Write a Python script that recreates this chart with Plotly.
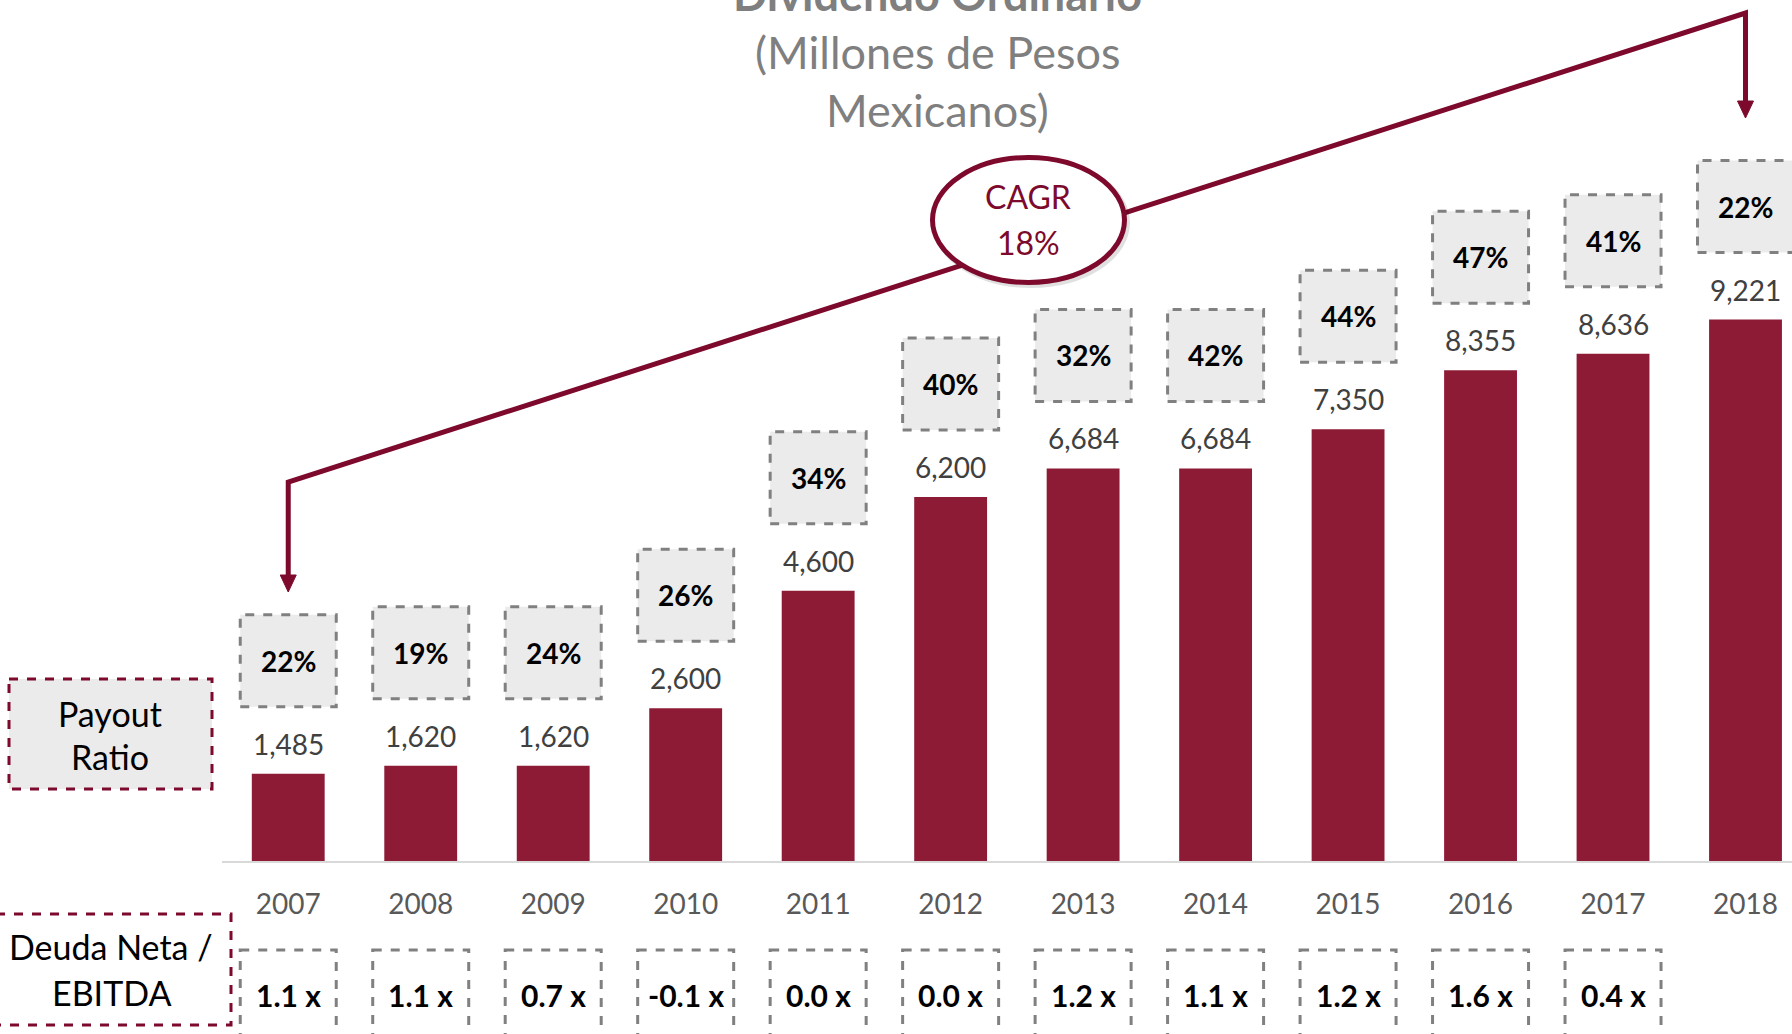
import plotly.graph_objects as go

# ---------------- data ----------------
years = ["2007", "2008", "2009", "2010", "2011", "2012", "2013", "2014", "2015", "2016", "2017", "2018"]
dividends = [1485, 1620, 1620, 2600, 4600, 6200, 6684, 6684, 7350, 8355, 8636, 9221]
payout_ratio = ["22%", "19%", "24%", "26%", "34%", "40%", "32%", "42%", "44%", "47%", "41%", "22%"]
net_debt_ebitda = [1.1, 1.1, 0.7, -0.1, 0.0, 0.0, 1.2, 1.1, 1.2, 1.6, 0.4]
title_lines = ["Dividendo Ordinario", "(Millones de Pesos", "Mexicanos)"]
cagr_text = ["CAGR", "18%"]

# ---------------- styles ----------------
W, H = 1792, 1034
BASE = 861          # pixel row of the x axis
LEFT = 222          # pixel column where the plot area begins
K = 541.5 / 9221    # pixels per million pesos
BAR = "#8E1B36"
MAROON = "#7D0A2C"
GRAY_TXT = "#7F7F7F"
FONT = "Lato, 'Open Sans', sans-serif"

def py(p):
    return (BASE - p) / BASE

def px(p):
    return (p - LEFT) / (W - LEFT)

n = len(years)
x = list(range(n))
x_hi = (W - 288) / 132.5

fig = go.Figure(
    go.Bar(
        x=x, y=dividends, width=0.55,
        marker=dict(color=BAR, line=dict(width=0)),
        hoverinfo="skip",
    )
)

shapes = []
annotations = []

# value labels + payout boxes
for i, (v, p) in enumerate(zip(dividends, payout_ratio)):
    annotations.append(dict(
        x=i, y=v, xref="x", yref="y", yshift=30, showarrow=False,
        text=f"{v:,}", font=dict(family=FONT, size=28, color="#404040"),
        xanchor="center", yanchor="middle",
    ))
    shapes.append(dict(
        type="rect", xref="x", yref="y", xsizemode="pixel", ysizemode="pixel",
        xanchor=i, yanchor=v, x0=-48, x1=48, y0=67, y1=159,
        fillcolor="#EBEBEB", line=dict(color="#808080", width=3, dash="dash"),
    ))
    annotations.append(dict(
        x=i, y=v, xref="x", yref="y", yshift=113, showarrow=False,
        text=f"<b>{p}</b>", font=dict(family=FONT, size=28, color="#000000"),
        xanchor="center", yanchor="middle",
    ))

# net debt / EBITDA boxes
for i, d in enumerate(net_debt_ebitda):
    shapes.append(dict(
        type="rect", xref="x", yref="paper", xsizemode="pixel",
        xanchor=i, x0=-48, x1=48, y0=py(950), y1=py(1044),
        fillcolor="#FFFFFF", line=dict(color="#808080", width=3, dash="dash"),
    ))
    annotations.append(dict(
        x=i, y=py(995), xref="x", yref="paper", showarrow=False,
        text=f"<b>{d:.1f} x</b>", font=dict(family=FONT, size=30, color="#000000"),
        xanchor="center", yanchor="middle",
    ))

# left label boxes
shapes.append(dict(
    type="rect", xref="paper", yref="paper",
    x0=px(9), x1=px(212), y0=py(679), y1=py(789),
    fillcolor="#EBEBEB", line=dict(color=MAROON, width=3, dash="dash"),
))
shapes.append(dict(
    type="rect", xref="paper", yref="paper",
    x0=px(-4), x1=px(231), y0=py(914), y1=py(1025),
    fillcolor="#FFFFFF", line=dict(color=MAROON, width=3, dash="dash"),
))
for txt, cy, cx in [("Payout", 713, 110), ("Ratio", 756, 110),
                    ("Deuda Neta /", 946, 111), ("EBITDA", 992, 111)]:
    annotations.append(dict(
        x=px(cx), y=py(cy), xref="paper", yref="paper", showarrow=False,
        text=txt, font=dict(family=FONT, size=34, color="#000000"),
        xanchor="center", yanchor="middle",
    ))

# CAGR bracket line
shapes.append(dict(
    type="path", xref="x", yref="paper",
    path=f"M 0,{py(578)} L 0,{py(482)} L {n-1},{py(13)} L {n-1},{py(104)}",
    line=dict(color=MAROON, width=5),
))
for tip in (592, 118):
    idx = 0 if tip == 592 else n - 1
    shapes.append(dict(
        type="path", xref="x", yref="paper", xsizemode="pixel", ysizemode="pixel",
        xanchor=idx, yanchor=py(tip),
        path="M -8,17 L 8,17 L 0,0 Z",
        fillcolor=MAROON, line=dict(color=MAROON, width=1),
    ))

# CAGR ellipse (shadow + ellipse)
shapes.append(dict(
    type="circle", xref="paper", yref="paper",
    x0=px(935), x1=px(1127), y0=py(160), y1=py(285),
    fillcolor="rgba(0,0,0,0)", line=dict(color="rgba(0,0,0,0.12)", width=6),
))
shapes.append(dict(
    type="circle", xref="paper", yref="paper",
    x0=px(932.5), x1=px(1124.5), y0=py(157.5), y1=py(282.5),
    fillcolor="#FFFFFF", line=dict(color=MAROON, width=5),
))
for txt, cy in zip(cagr_text, (196, 242)):
    annotations.append(dict(
        x=px(1028), y=py(cy), xref="paper", yref="paper", showarrow=False,
        text=txt, font=dict(family=FONT, size=32, color=MAROON),
        xanchor="center", yanchor="middle",
    ))

# title lines
for txt, cy, bold in zip(title_lines, (-6, 52, 110), (True, False, False)):
    annotations.append(dict(
        x=px(937), y=py(cy), xref="paper", yref="paper", showarrow=False,
        text=f"<b>{txt}</b>" if bold else txt,
        font=dict(family=FONT, size=45, color=GRAY_TXT),
        xanchor="center", yanchor="middle",
    ))

fig.update_layout(
    width=W, height=H,
    margin=dict(l=LEFT, r=0, t=0, b=H - BASE, pad=0),
    paper_bgcolor="#FFFFFF", plot_bgcolor="#FFFFFF",
    showlegend=False,
    shapes=shapes, annotations=annotations,
    xaxis=dict(
        range=[-0.5, x_hi], tickmode="array", tickvals=x, ticktext=years,
        tickfont=dict(family=FONT, size=28, color="#595959"),
        showline=True, linecolor="#D9D9D9", linewidth=2,
        showgrid=False, zeroline=False, ticks="", ticklabelstandoff=17,
        fixedrange=True,
    ),
    yaxis=dict(range=[0, BASE / K], visible=False, fixedrange=True),
)

fig.write_html(
    "out.html",
    config={"displayModeBar": False},
    post_script="document.body.style.margin='0';document.body.style.overflow='hidden';",
)
